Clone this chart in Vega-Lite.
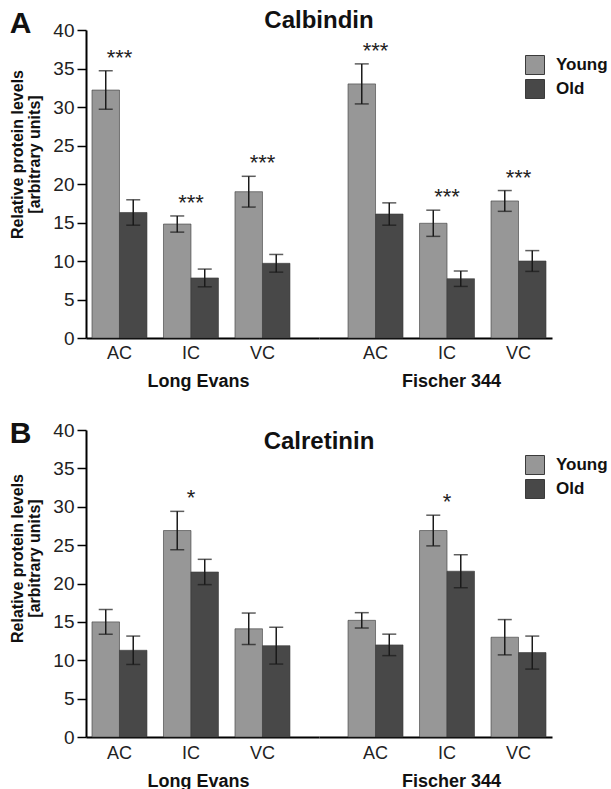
{
  "$schema": "https://vega.github.io/schema/vega-lite/v6.json",
  "background": "white",
  "padding": {"left": 9, "top": 9, "right": 4, "bottom": 4},
  "config": {
    "font": "Liberation Sans",
    "view": {"stroke": null},
    "axis": {
      "grid": false,
      "labelFont": "Liberation Sans",
      "labelColor": "#222222",
      "domainColor": "#000000",
      "domainWidth": 2,
      "tickColor": "#000000",
      "tickWidth": 1.5,
      "titleFont": "Liberation Sans",
      "titleFontWeight": "bold",
      "titleColor": "#111111"
    },
    "axisX": {"labelFontSize": 18},
    "title": {"font": "Liberation Sans", "fontWeight": "bold", "color": "#111111"}
  },
  "datasets": {
    "calbindin": [
      {"strain": "Long Evans", "region": "AC", "age": "Young", "mean": 32.2, "sem": 2.5, "sig": "***"},
      {"strain": "Long Evans", "region": "AC", "age": "Old", "mean": 16.3, "sem": 1.65, "sig": ""},
      {"strain": "Long Evans", "region": "IC", "age": "Young", "mean": 14.8, "sem": 1.05, "sig": "***"},
      {"strain": "Long Evans", "region": "IC", "age": "Old", "mean": 7.8, "sem": 1.15, "sig": ""},
      {"strain": "Long Evans", "region": "VC", "age": "Young", "mean": 19.0, "sem": 2.0, "sig": "***"},
      {"strain": "Long Evans", "region": "VC", "age": "Old", "mean": 9.7, "sem": 1.15, "sig": ""},
      {"strain": "Fischer 344", "region": "AC", "age": "Young", "mean": 33.0, "sem": 2.6, "sig": "***"},
      {"strain": "Fischer 344", "region": "AC", "age": "Old", "mean": 16.1, "sem": 1.45, "sig": ""},
      {"strain": "Fischer 344", "region": "IC", "age": "Young", "mean": 14.9, "sem": 1.7, "sig": "***"},
      {"strain": "Fischer 344", "region": "IC", "age": "Old", "mean": 7.7, "sem": 1.0, "sig": ""},
      {"strain": "Fischer 344", "region": "VC", "age": "Young", "mean": 17.8, "sem": 1.35, "sig": "***"},
      {"strain": "Fischer 344", "region": "VC", "age": "Old", "mean": 10.0, "sem": 1.35, "sig": ""}
    ],
    "calretinin": [
      {"strain": "Long Evans", "region": "AC", "age": "Young", "mean": 15.0, "sem": 1.6, "sig": ""},
      {"strain": "Long Evans", "region": "AC", "age": "Old", "mean": 11.3, "sem": 1.85, "sig": ""},
      {"strain": "Long Evans", "region": "IC", "age": "Young", "mean": 26.9, "sem": 2.5, "sig": "*"},
      {"strain": "Long Evans", "region": "IC", "age": "Old", "mean": 21.5, "sem": 1.65, "sig": ""},
      {"strain": "Long Evans", "region": "VC", "age": "Young", "mean": 14.1, "sem": 2.05, "sig": ""},
      {"strain": "Long Evans", "region": "VC", "age": "Old", "mean": 11.9, "sem": 2.4, "sig": ""},
      {"strain": "Fischer 344", "region": "AC", "age": "Young", "mean": 15.2, "sem": 1.0, "sig": ""},
      {"strain": "Fischer 344", "region": "AC", "age": "Old", "mean": 12.0, "sem": 1.4, "sig": ""},
      {"strain": "Fischer 344", "region": "IC", "age": "Young", "mean": 26.9, "sem": 2.0, "sig": "*"},
      {"strain": "Fischer 344", "region": "IC", "age": "Old", "mean": 21.6, "sem": 2.15, "sig": ""},
      {"strain": "Fischer 344", "region": "VC", "age": "Young", "mean": 13.0, "sem": 2.3, "sig": ""},
      {"strain": "Fischer 344", "region": "VC", "age": "Old", "mean": 11.0, "sem": 2.15, "sig": ""}
    ]
  },
  "resolve": {"scale": {"color": "independent"}},
  "spacing": 29,
  "vconcat": [
    {
      "title": {"text": "Calbindin", "anchor": "middle", "frame": "group", "fontSize": 24, "offset": -24, "dx": 233},
      "bounds": "flush",
      "spacing": 0,
      "resolve": {"scale": {"x": "independent", "y": "shared", "color": "shared"}},
      "data": {"name": "calbindin"},
      "transform": [
        {"calculate": "datum.mean - datum.sem", "as": "lo"},
        {"calculate": "datum.mean + datum.sem", "as": "hi"}
      ],
      "hconcat": [
        {
          "title": {"text": "A", "anchor": "start", "frame": "bounds", "fontSize": 30, "offset": -18},
          "width": 233,
          "height": 308,
          "transform": [{"filter": "datum.strain === 'Long Evans'"}],
          "encoding": {
            "x": {"field": "region", "type": "nominal", "sort": ["AC", "IC", "VC"],
              "scale": {"paddingInner": 0.2308, "paddingOuter": 0.2448, "align": 0.171},
              "axis": {"title": "Long Evans", "ticks": false, "labelAngle": 0, "labelPadding": 6, "titleFontSize": 18, "titlePadding": 10, "titleX": 112}}
          },
          "layer": [
            {
              "mark": {"type": "bar", "strokeWidth": 1, "stroke": "#3a3a3a", "strokeOpacity": 0.6},
              "encoding": {
                "xOffset": {"field": "age", "type": "nominal", "sort": ["Young", "Old"], "scale": {"paddingInner": 0, "paddingOuter": 0}},
                "y": {"field": "mean", "type": "quantitative", "scale": {"domain": [0, 40], "nice": false},
                  "axis": {"values": [0, 5, 10, 15, 20, 25, 30, 35, 40], "labelOverlap": false, "labelFontSize": 19, "tickSize": 9, "labelPadding": 3,
                    "title": ["Relative protein levels", "[arbitrary units]"], "titleFontSize": 16, "titleLineHeight": 17, "titlePadding": 10, "titleY": 124}},
                "color": {"field": "age", "type": "nominal", "sort": ["Young", "Old"],
                  "scale": {"domain": ["Young", "Old"], "range": ["#979797", "#484848"]},
                  "legend": {"orient": "none", "legendX": 439, "legendY": 25, "direction": "vertical", "title": null,
                    "symbolType": "square", "symbolSize": 361, "symbolStrokeColor": "#555555", "symbolStrokeWidth": 1,
                    "labelFontSize": 17, "labelFontWeight": "bold", "labelColor": "#111111", "labelOffset": 11, "rowPadding": 0, "padding": 0}}
              }
            },
            {
              "mark": {"type": "rule", "color": "#1a1a1a", "strokeWidth": 1.5},
              "encoding": {
                "xOffset": {"field": "age", "type": "nominal", "sort": ["Young", "Old"]},
                "y": {"field": "lo", "type": "quantitative",
                  "axis": {"values": [0, 5, 10, 15, 20, 25, 30, 35, 40], "labelOverlap": false, "labelFontSize": 19, "tickSize": 9, "labelPadding": 3,
                    "title": ["Relative protein levels", "[arbitrary units]"], "titleFontSize": 16, "titleLineHeight": 17, "titlePadding": 10, "titleY": 124}},
                "y2": {"field": "hi"}
              }
            },
            {
              "mark": {"type": "tick", "color": "#1a1a1a", "size": 14, "thickness": 1.5, "orient": "horizontal"},
              "encoding": {"xOffset": {"field": "age", "type": "nominal", "sort": ["Young", "Old"]},
                "y": {"field": "lo", "type": "quantitative",
                  "axis": {"values": [0, 5, 10, 15, 20, 25, 30, 35, 40], "labelOverlap": false, "labelFontSize": 19, "tickSize": 9, "labelPadding": 3,
                    "title": ["Relative protein levels", "[arbitrary units]"], "titleFontSize": 16, "titleLineHeight": 17, "titlePadding": 10, "titleY": 124}}}
            },
            {
              "mark": {"type": "tick", "color": "#1a1a1a", "size": 14, "thickness": 1.5, "orient": "horizontal"},
              "encoding": {"xOffset": {"field": "age", "type": "nominal", "sort": ["Young", "Old"]},
                "y": {"field": "hi", "type": "quantitative",
                  "axis": {"values": [0, 5, 10, 15, 20, 25, 30, 35, 40], "labelOverlap": false, "labelFontSize": 19, "tickSize": 9, "labelPadding": 3,
                    "title": ["Relative protein levels", "[arbitrary units]"], "titleFontSize": 16, "titleLineHeight": 17, "titlePadding": 10, "titleY": 124}}}
            },
            {
              "transform": [{"filter": "datum.sig"}],
              "mark": {"type": "text", "fontSize": 22, "color": "#222222", "baseline": "alphabetic", "dy": -6},
              "encoding": {
                "y": {"field": "hi", "type": "quantitative",
                  "axis": {"values": [0, 5, 10, 15, 20, 25, 30, 35, 40], "labelOverlap": false, "labelFontSize": 19, "tickSize": 9, "labelPadding": 3,
                    "title": ["Relative protein levels", "[arbitrary units]"], "titleFontSize": 16, "titleLineHeight": 17, "titlePadding": 10, "titleY": 124}},
                "text": {"field": "sig"}}
            }
          ]
        },
        {
          "width": 233,
          "height": 308,
          "transform": [{"filter": "datum.strain === 'Fischer 344'"}],
          "encoding": {
            "x": {"field": "region", "type": "nominal", "sort": ["AC", "IC", "VC"],
              "scale": {"paddingInner": 0.2308, "paddingOuter": 0.2448, "align": 0.829},
              "axis": {"title": "Fischer 344", "ticks": false, "labelAngle": 0, "labelPadding": 6, "titleFontSize": 18, "titlePadding": 10, "titleX": 132}}
          },
          "layer": [
            {
              "mark": {"type": "bar", "strokeWidth": 1, "stroke": "#3a3a3a", "strokeOpacity": 0.6},
              "encoding": {
                "xOffset": {"field": "age", "type": "nominal", "sort": ["Young", "Old"], "scale": {"paddingInner": 0, "paddingOuter": 0}},
                "y": {"field": "mean", "type": "quantitative", "scale": {"domain": [0, 40], "nice": false}, "axis": null},
                "color": {"field": "age", "type": "nominal", "sort": ["Young", "Old"]}
              }
            },
            {
              "mark": {"type": "rule", "color": "#1a1a1a", "strokeWidth": 1.5},
              "encoding": {
                "xOffset": {"field": "age", "type": "nominal", "sort": ["Young", "Old"]},
                "y": {"field": "lo", "type": "quantitative", "axis": null},
                "y2": {"field": "hi"}
              }
            },
            {
              "mark": {"type": "tick", "color": "#1a1a1a", "size": 14, "thickness": 1.5, "orient": "horizontal"},
              "encoding": {"xOffset": {"field": "age", "type": "nominal", "sort": ["Young", "Old"]}, "y": {"field": "lo", "type": "quantitative", "axis": null}}
            },
            {
              "mark": {"type": "tick", "color": "#1a1a1a", "size": 14, "thickness": 1.5, "orient": "horizontal"},
              "encoding": {"xOffset": {"field": "age", "type": "nominal", "sort": ["Young", "Old"]}, "y": {"field": "hi", "type": "quantitative", "axis": null}}
            },
            {
              "transform": [{"filter": "datum.sig"}],
              "mark": {"type": "text", "fontSize": 22, "color": "#222222", "baseline": "alphabetic", "dy": -6},
              "encoding": {"y": {"field": "hi", "type": "quantitative", "axis": null}, "text": {"field": "sig"}}
            }
          ]
        }
      ]
    },
    {
      "title": {"text": "Calretinin", "anchor": "middle", "frame": "group", "fontSize": 24, "offset": -35, "dx": 233},
      "bounds": "flush",
      "spacing": 0,
      "resolve": {"scale": {"x": "independent", "y": "shared", "color": "shared"}},
      "data": {"name": "calretinin"},
      "transform": [
        {"calculate": "datum.mean - datum.sem", "as": "lo"},
        {"calculate": "datum.mean + datum.sem", "as": "hi"}
      ],
      "hconcat": [
        {
          "title": {"text": "B", "anchor": "start", "frame": "bounds", "fontSize": 30, "offset": -28},
          "width": 233,
          "height": 307,
          "transform": [{"filter": "datum.strain === 'Long Evans'"}],
          "encoding": {
            "x": {"field": "region", "type": "nominal", "sort": ["AC", "IC", "VC"],
              "scale": {"paddingInner": 0.2308, "paddingOuter": 0.2448, "align": 0.171},
              "axis": {"title": "Long Evans", "ticks": false, "labelAngle": 0, "labelPadding": 7, "titleFontSize": 18, "titlePadding": 10, "titleX": 112}}
          },
          "layer": [
            {
              "mark": {"type": "bar", "strokeWidth": 1, "stroke": "#3a3a3a", "strokeOpacity": 0.6},
              "encoding": {
                "xOffset": {"field": "age", "type": "nominal", "sort": ["Young", "Old"], "scale": {"paddingInner": 0, "paddingOuter": 0}},
                "y": {"field": "mean", "type": "quantitative", "scale": {"domain": [0, 40], "nice": false},
                  "axis": {"values": [0, 5, 10, 15, 20, 25, 30, 35, 40], "labelOverlap": false, "labelFontSize": 19, "tickSize": 9, "labelPadding": 3,
                    "title": ["Relative protein levels", "[arbitrary units]"], "titleFontSize": 16, "titleLineHeight": 17, "titlePadding": 10, "titleY": 128}},
                "color": {"field": "age", "type": "nominal", "sort": ["Young", "Old"],
                  "scale": {"domain": ["Young", "Old"], "range": ["#979797", "#484848"]},
                  "legend": {"orient": "none", "legendX": 439, "legendY": 25, "direction": "vertical", "title": null,
                    "symbolType": "square", "symbolSize": 361, "symbolStrokeColor": "#555555", "symbolStrokeWidth": 1,
                    "labelFontSize": 17, "labelFontWeight": "bold", "labelColor": "#111111", "labelOffset": 11, "rowPadding": 0, "padding": 0}}
              }
            },
            {
              "mark": {"type": "rule", "color": "#1a1a1a", "strokeWidth": 1.5},
              "encoding": {
                "xOffset": {"field": "age", "type": "nominal", "sort": ["Young", "Old"]},
                "y": {"field": "lo", "type": "quantitative",
                  "axis": {"values": [0, 5, 10, 15, 20, 25, 30, 35, 40], "labelOverlap": false, "labelFontSize": 19, "tickSize": 9, "labelPadding": 3,
                    "title": ["Relative protein levels", "[arbitrary units]"], "titleFontSize": 16, "titleLineHeight": 17, "titlePadding": 10, "titleY": 128}},
                "y2": {"field": "hi"}
              }
            },
            {
              "mark": {"type": "tick", "color": "#1a1a1a", "size": 14, "thickness": 1.5, "orient": "horizontal"},
              "encoding": {"xOffset": {"field": "age", "type": "nominal", "sort": ["Young", "Old"]},
                "y": {"field": "lo", "type": "quantitative",
                  "axis": {"values": [0, 5, 10, 15, 20, 25, 30, 35, 40], "labelOverlap": false, "labelFontSize": 19, "tickSize": 9, "labelPadding": 3,
                    "title": ["Relative protein levels", "[arbitrary units]"], "titleFontSize": 16, "titleLineHeight": 17, "titlePadding": 10, "titleY": 128}}}
            },
            {
              "mark": {"type": "tick", "color": "#1a1a1a", "size": 14, "thickness": 1.5, "orient": "horizontal"},
              "encoding": {"xOffset": {"field": "age", "type": "nominal", "sort": ["Young", "Old"]},
                "y": {"field": "hi", "type": "quantitative",
                  "axis": {"values": [0, 5, 10, 15, 20, 25, 30, 35, 40], "labelOverlap": false, "labelFontSize": 19, "tickSize": 9, "labelPadding": 3,
                    "title": ["Relative protein levels", "[arbitrary units]"], "titleFontSize": 16, "titleLineHeight": 17, "titlePadding": 10, "titleY": 128}}}
            },
            {
              "transform": [{"filter": "datum.sig"}],
              "mark": {"type": "text", "fontSize": 22, "color": "#222222", "baseline": "alphabetic", "dy": -6},
              "encoding": {
                "y": {"field": "hi", "type": "quantitative",
                  "axis": {"values": [0, 5, 10, 15, 20, 25, 30, 35, 40], "labelOverlap": false, "labelFontSize": 19, "tickSize": 9, "labelPadding": 3,
                    "title": ["Relative protein levels", "[arbitrary units]"], "titleFontSize": 16, "titleLineHeight": 17, "titlePadding": 10, "titleY": 128}},
                "text": {"field": "sig"}}
            }
          ]
        },
        {
          "width": 233,
          "height": 307,
          "transform": [{"filter": "datum.strain === 'Fischer 344'"}],
          "encoding": {
            "x": {"field": "region", "type": "nominal", "sort": ["AC", "IC", "VC"],
              "scale": {"paddingInner": 0.2308, "paddingOuter": 0.2448, "align": 0.829},
              "axis": {"title": "Fischer 344", "ticks": false, "labelAngle": 0, "labelPadding": 7, "titleFontSize": 18, "titlePadding": 10, "titleX": 132}}
          },
          "layer": [
            {
              "mark": {"type": "bar", "strokeWidth": 1, "stroke": "#3a3a3a", "strokeOpacity": 0.6},
              "encoding": {
                "xOffset": {"field": "age", "type": "nominal", "sort": ["Young", "Old"], "scale": {"paddingInner": 0, "paddingOuter": 0}},
                "y": {"field": "mean", "type": "quantitative", "scale": {"domain": [0, 40], "nice": false}, "axis": null},
                "color": {"field": "age", "type": "nominal", "sort": ["Young", "Old"]}
              }
            },
            {
              "mark": {"type": "rule", "color": "#1a1a1a", "strokeWidth": 1.5},
              "encoding": {
                "xOffset": {"field": "age", "type": "nominal", "sort": ["Young", "Old"]},
                "y": {"field": "lo", "type": "quantitative", "axis": null},
                "y2": {"field": "hi"}
              }
            },
            {
              "mark": {"type": "tick", "color": "#1a1a1a", "size": 14, "thickness": 1.5, "orient": "horizontal"},
              "encoding": {"xOffset": {"field": "age", "type": "nominal", "sort": ["Young", "Old"]}, "y": {"field": "lo", "type": "quantitative", "axis": null}}
            },
            {
              "mark": {"type": "tick", "color": "#1a1a1a", "size": 14, "thickness": 1.5, "orient": "horizontal"},
              "encoding": {"xOffset": {"field": "age", "type": "nominal", "sort": ["Young", "Old"]}, "y": {"field": "hi", "type": "quantitative", "axis": null}}
            },
            {
              "transform": [{"filter": "datum.sig"}],
              "mark": {"type": "text", "fontSize": 22, "color": "#222222", "baseline": "alphabetic", "dy": -6},
              "encoding": {"y": {"field": "hi", "type": "quantitative", "axis": null}, "text": {"field": "sig"}}
            }
          ]
        }
      ]
    }
  ]
}
